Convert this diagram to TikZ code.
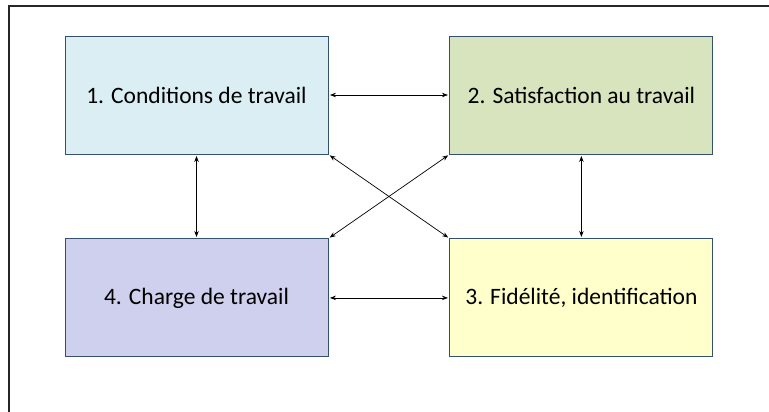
\documentclass[tikz,border=0pt]{standalone}
\usepackage{fontspec}
\setmainfont{Carlito}
\usetikzlibrary{positioning, arrows.meta}

\definecolor{boxline}{HTML}{34506F}
\definecolor{fillone}{HTML}{DBEEF4}
\definecolor{filltwo}{HTML}{D7E4BD}
\definecolor{fillthree}{HTML}{FFFFCC}
\definecolor{fillfour}{HTML}{CFCFEE}

\begin{document}
\begin{tikzpicture}[
  x=1pt, y=-1pt,
  node distance=84pt and 121pt,
  box/.style={draw=boxline, line width=0.9pt, rectangle, minimum width=263pt, minimum height=118pt, inner sep=0pt, align=center, font=\fontsize{23.5}{28}\selectfont},
  arrow/.style={{Stealth[length=6pt,width=4.5pt]}-{Stealth[length=6pt,width=4.5pt]}, line width=0.7pt, shorten <=1.5pt, shorten >=1.5pt}
]
\useasboundingbox (0,0) rectangle (769,412);
% frame
\draw[line width=1.2pt, black!85] (9,412) -- (9,6) -- (769,6);

\node[box, fill=fillone] (cond) at (196.5,95) {1. Conditions de travail};
\node[box, fill=filltwo, right=of cond] (satis) {2. Satisfaction au travail};
\node[box, fill=fillfour, below=of cond] (charge) {4. Charge de travail};
\node[box, fill=fillthree, right=of charge] (fidel) {3. Fidélité, identification};

\draw[arrow] (cond) -- (satis);
\draw[arrow] (charge) -- (fidel);
\draw[arrow] (cond) -- (charge);
\draw[arrow] (satis) -- (fidel);
\draw[arrow] (cond.south east) -- (fidel.north west);
\draw[arrow] (satis.south west) -- (charge.north east);
\end{tikzpicture}
\end{document}
